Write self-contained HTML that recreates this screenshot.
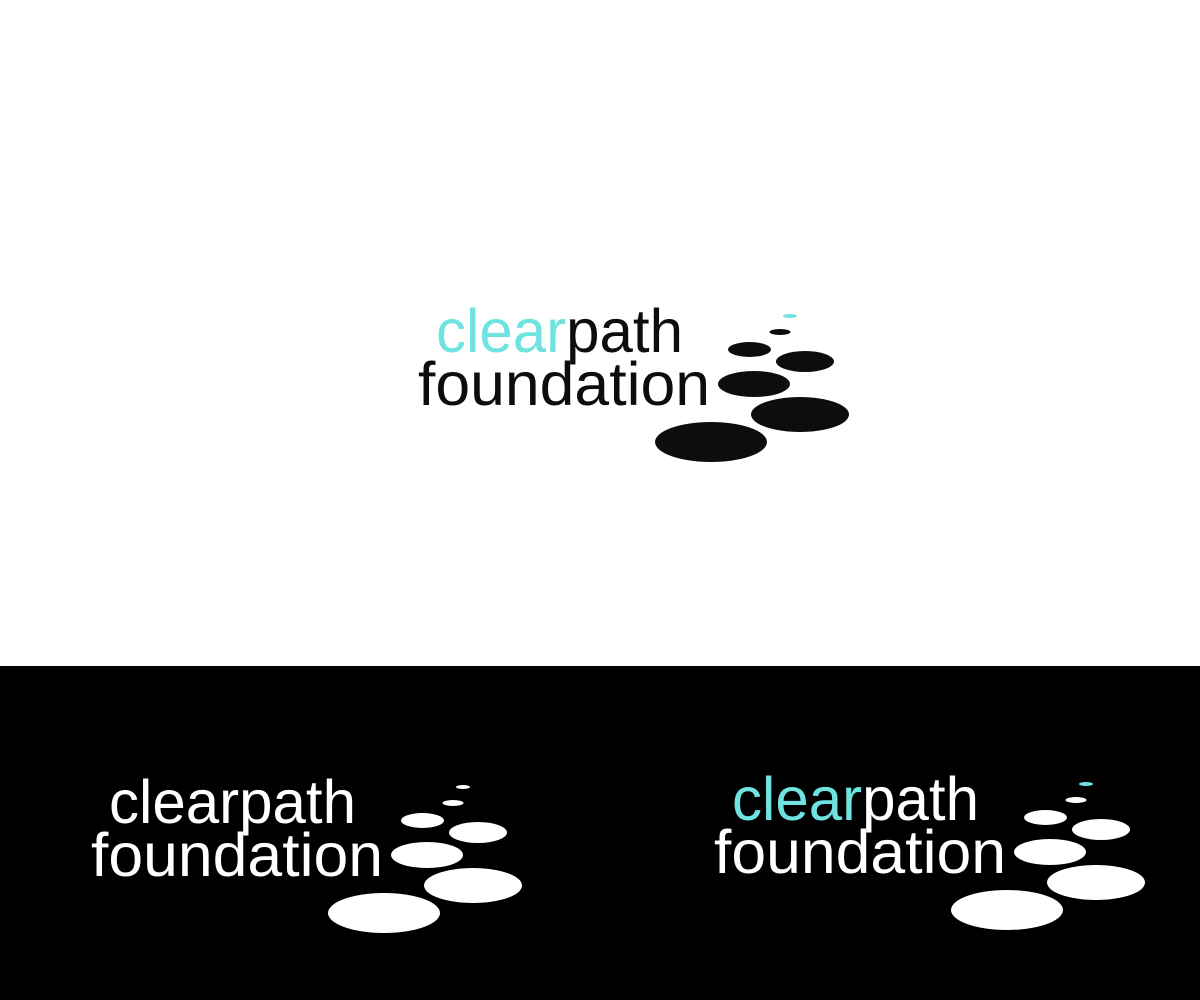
<!DOCTYPE html>
<html><head><meta charset="utf-8"><style>
html,body{margin:0;padding:0;background:#fff}
svg{display:block}
text{font-family:"Liberation Sans",sans-serif;font-size:61px}
</style></head><body>
<svg width="1200" height="1000" viewBox="0 0 1200 1000" xmlns="http://www.w3.org/2000/svg">
<rect x="0" y="0" width="1200" height="666" fill="#fff"/>
<rect x="0" y="666" width="1200" height="334" fill="#000"/>
<defs>
<g id="dots">
<ellipse cx="780" cy="332" rx="10.5" ry="3"/>
<ellipse cx="749.5" cy="349.5" rx="21.5" ry="7.5"/>
<ellipse cx="805" cy="361.5" rx="29" ry="10.5"/>
<ellipse cx="754" cy="384" rx="36" ry="13"/>
<ellipse cx="800" cy="414.5" rx="49" ry="17.5"/>
<ellipse cx="711" cy="442" rx="56" ry="20"/>
</g>
</defs>
<!-- top -->
<g fill="#0d0d0d">
<text x="436" y="352" textLength="247" lengthAdjust="spacingAndGlyphs"><tspan fill="#6fe3df">clear</tspan>path</text>
<text x="418" y="405" textLength="292" lengthAdjust="spacingAndGlyphs">foundation</text>
<use href="#dots"/>
<ellipse cx="790" cy="316" rx="7" ry="2" fill="#6fe3df"/>
</g>
<!-- bottom left -->
<g fill="#fff" transform="translate(-327,471)">
<text x="436" y="352" textLength="247" lengthAdjust="spacingAndGlyphs">clearpath</text>
<text x="418" y="405" textLength="292" lengthAdjust="spacingAndGlyphs">foundation</text>
<use href="#dots"/>
<ellipse cx="790" cy="316" rx="7" ry="2"/>
</g>
<!-- bottom right -->
<g fill="#fff" transform="translate(296,468)">
<text x="436" y="352" textLength="247" lengthAdjust="spacingAndGlyphs"><tspan fill="#6fe3df">clear</tspan>path</text>
<text x="418" y="405" textLength="292" lengthAdjust="spacingAndGlyphs">foundation</text>
<use href="#dots"/>
<ellipse cx="790" cy="316" rx="7" ry="2" fill="#6fe3df"/>
</g>
</svg>
</body></html>
